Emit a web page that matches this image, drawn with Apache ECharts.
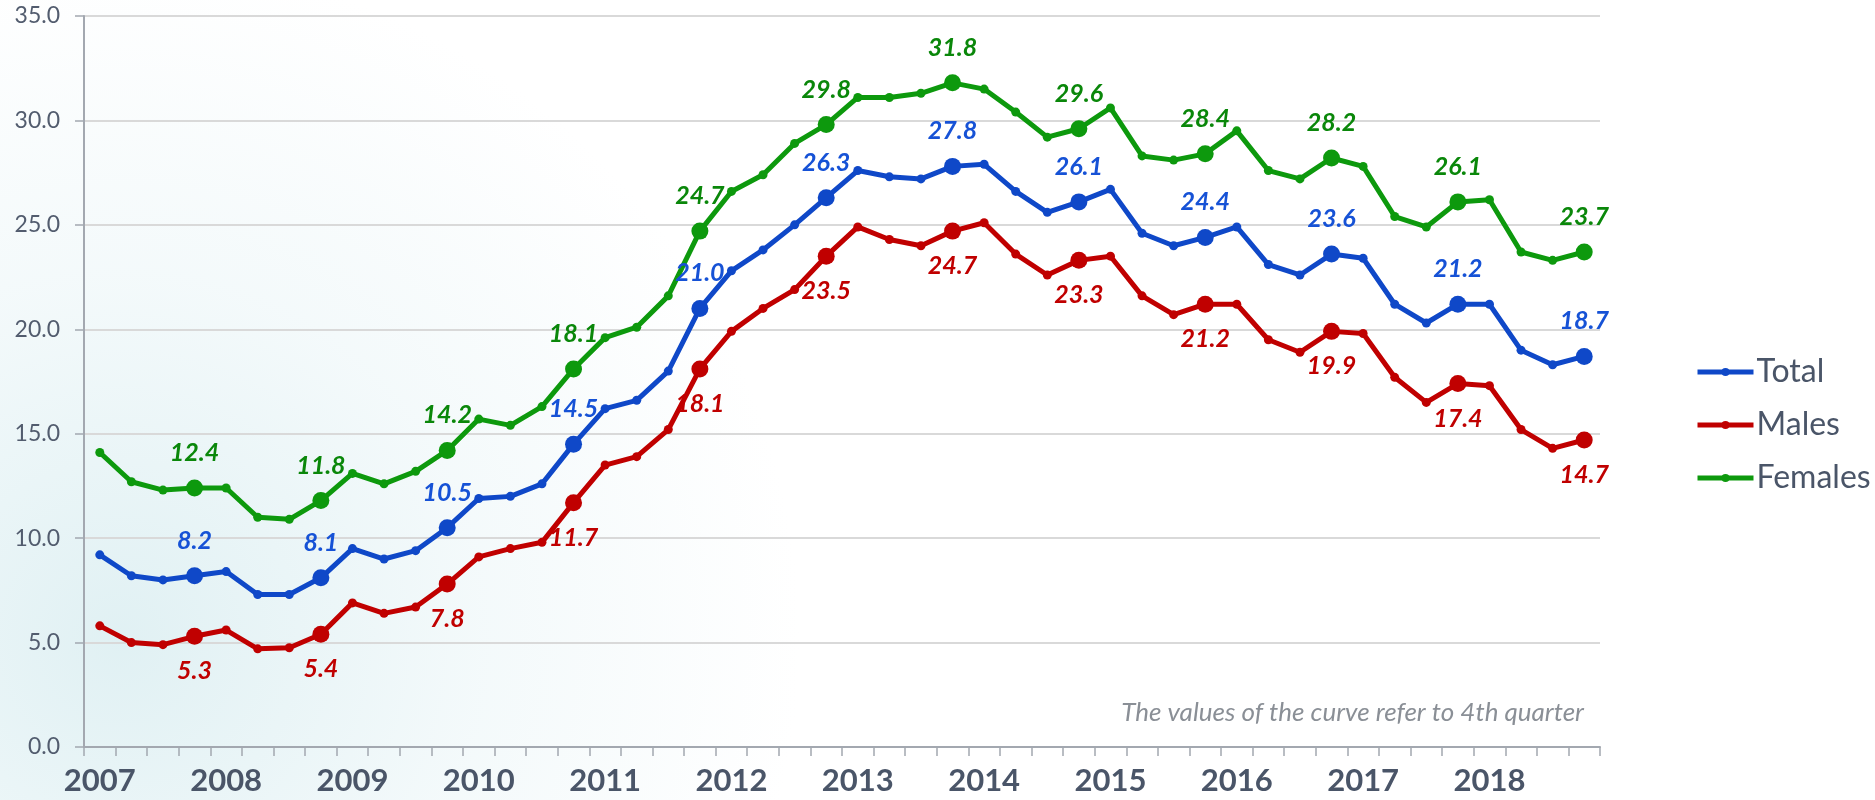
<!DOCTYPE html>
<html>
<head>
<meta charset="utf-8">
<script src="https://cdn.jsdelivr.net/npm/echarts@6/dist/echarts.min.js"></script>
<style>
  html, body {
    margin: 0;
    padding: 0;
    background: #ffffff;
  }
  #chart {
    width: 1875px;
    height: 800px;
    background: radial-gradient(circle at 120px 640px, rgba(221, 239, 242, 0.9) 0px, rgba(236, 246, 248, 0.6) 360px, rgba(255, 255, 255, 0) 680px), #ffffff;
  }
</style>
</head>
<body>
<div id="chart"></div>
<script>
// years on the x axis, one per 4 quarters
const years = ['2007', '2008', '2009', '2010', '2011', '2012', '2013', '2014', '2015', '2016', '2017', '2018']
const quarters = ['Q1', 'Q2', 'Q3', 'Q4']

// quarterly values, 2007 Q1 .. 2018 Q4
const total = [9.2, 8.2, 8.0, 8.2, 8.4, 7.3, 7.3, 8.1, 9.5, 9.0, 9.4, 10.5,
  11.9, 12.0, 12.6, 14.5, 16.2, 16.6, 18.0, 21.0, 22.8, 23.8, 25.0, 26.3,
  27.6, 27.3, 27.2, 27.8, 27.9, 26.6, 25.6, 26.1, 26.7, 24.6, 24.0, 24.4,
  24.9, 23.1, 22.6, 23.6, 23.4, 21.2, 20.3, 21.2, 21.2, 19.0, 18.3, 18.7]
const males = [5.8, 5.0, 4.9, 5.3, 5.6, 4.7, 4.75, 5.4, 6.9, 6.4, 6.7, 7.8,
  9.1, 9.5, 9.8, 11.7, 13.5, 13.9, 15.2, 18.1, 19.9, 21.0, 21.9, 23.5,
  24.9, 24.3, 24.0, 24.7, 25.1, 23.6, 22.6, 23.3, 23.5, 21.6, 20.7, 21.2,
  21.2, 19.5, 18.9, 19.9, 19.8, 17.7, 16.5, 17.4, 17.3, 15.2, 14.3, 14.7]
const females = [14.1, 12.7, 12.3, 12.4, 12.4, 11.0, 10.9, 11.8, 13.1, 12.6, 13.2, 14.2,
  15.7, 15.4, 16.3, 18.1, 19.6, 20.1, 21.6, 24.7, 26.6, 27.4, 28.9, 29.8,
  31.1, 31.1, 31.3, 31.8, 31.5, 30.4, 29.2, 29.6, 30.6, 28.3, 28.1, 28.4,
  29.5, 27.6, 27.2, 28.2, 27.8, 25.4, 24.9, 26.1, 26.2, 23.7, 23.3, 23.7]

const yTicks = [0, 5, 10, 15, 20, 25, 30, 35]
const note = 'The values of the curve refer to 4th quarter'

const categories = []
years.forEach(y => quarters.forEach(q => categories.push(y + ' ' + q)))

const FONT = 'Lato, "Open Sans", sans-serif'
const isQ4 = i => i % 4 === 3

const makeSeries = (name, data, lineColor, labelColor, labelPos) => ({
  name: name,
  type: 'line',
  data: data,
  symbol: 'circle',
  symbolSize: (v, p) => isQ4(p.dataIndex) ? 17 : 9,
  showAllSymbol: true,
  lineStyle: { width: 5, color: lineColor },
  itemStyle: { color: lineColor },
  label: {
    show: true,
    position: labelPos,
    distance: 14,
    fontFamily: FONT,
    fontSize: 25,
    fontWeight: 'bold',
    fontStyle: 'italic',
    color: labelColor,
    formatter: p => isQ4(p.dataIndex) ? p.value.toFixed(1) : ''
  },
  emphasis: { disabled: true },
  animation: false
})

const chart = echarts.init(document.getElementById('chart'), null, { renderer: 'canvas' })

chart.setOption({
  backgroundColor: 'transparent',
  animation: false,
  grid: {
    left: 84,
    right: 275,
    top: 16,
    bottom: 53
  },
  legend: {
    orient: 'vertical',
    left: 1695,
    top: 355,
    padding: 0,
    itemWidth: 56,
    itemHeight: 10,
    itemGap: 19,
    lineStyle: { width: 5 },
    textStyle: {
      fontFamily: FONT,
      fontSize: 32,
      lineHeight: 34,
      color: '#4a5568',
      padding: [0, 0, 0, -2]
    },
    data: ['Total', 'Males', 'Females']
  },
  xAxis: {
    type: 'category',
    data: categories,
    boundaryGap: true,
    axisLine: { lineStyle: { color: '#a3a8b0', width: 2 } },
    axisTick: {
      show: true,
      interval: 0,
      length: 9,
      lineStyle: { color: '#a3a8b0', width: 1.5 }
    },
    axisLabel: {
      interval: (i) => i % 4 === 0,
      formatter: v => v.split(' ')[0],
      margin: 18,
      fontFamily: FONT,
      fontSize: 31,
      fontWeight: 'bold',
      color: '#4a5568'
    },
    splitLine: { show: false }
  },
  yAxis: {
    type: 'value',
    min: yTicks[0],
    max: yTicks[yTicks.length - 1],
    interval: 5,
    axisLine: { show: true, lineStyle: { color: '#a3a8b0', width: 2 } },
    axisTick: { show: true, length: 9, lineStyle: { color: '#a3a8b0', width: 1.5 } },
    axisLabel: {
      formatter: v => v.toFixed(1),
      margin: 24,
      fontFamily: FONT,
      fontSize: 23,
      color: '#525c6e'
    },
    splitLine: { lineStyle: { color: '#d9d9d9', width: 2 } }
  },
  graphic: [{
    type: 'text',
    right: 291,
    top: 700,
    style: {
      text: note,
      fontFamily: FONT,
      fontSize: 26,
      fontStyle: 'italic',
      fill: '#8a8f96'
    }
  }],
  series: [
    makeSeries('Total', total, '#0f48c8', '#1652d6', 'top'),
    makeSeries('Males', males, '#c00000', '#c00000', 'bottom'),
    makeSeries('Females', females, '#0d990d', '#0a870a', 'top')
  ]
})
</script>
</body>
</html>
